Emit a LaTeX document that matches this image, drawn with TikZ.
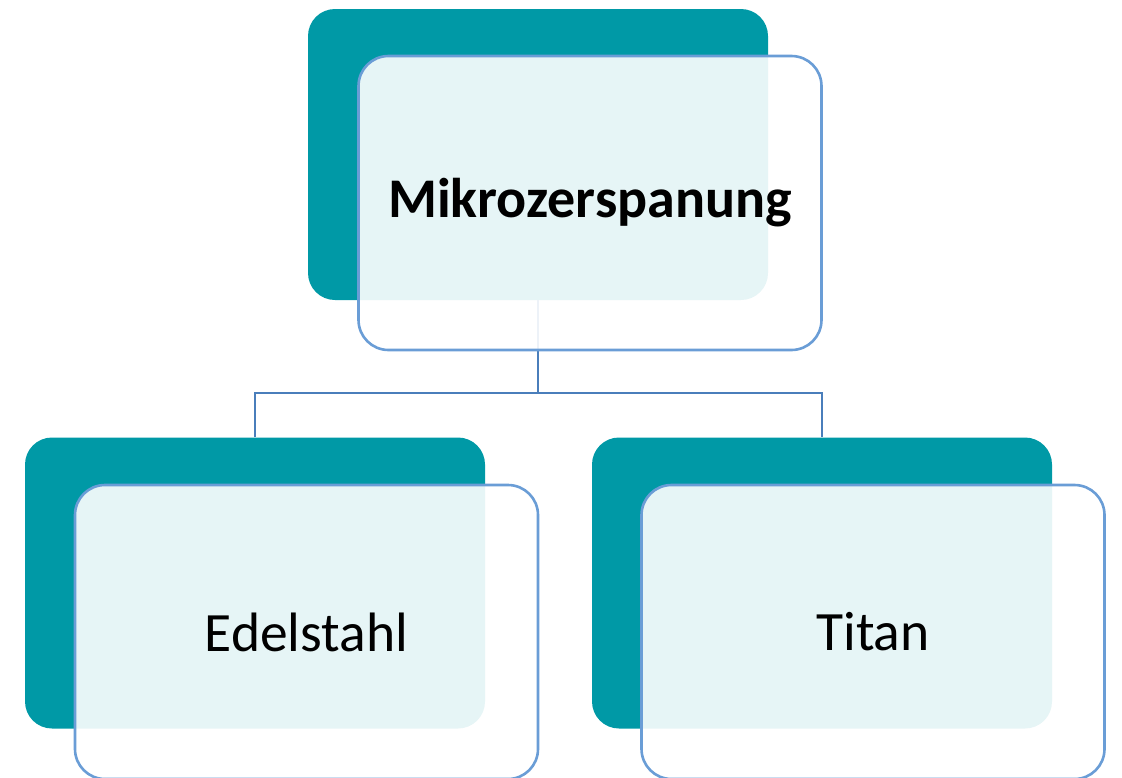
\documentclass[tikz,border=0pt]{standalone}
\usepackage{fontspec}
\setmainfont{Carlito}
\definecolor{tealback}{HTML}{0099A6}
\definecolor{frameblue}{HTML}{6A9DD6}
\definecolor{linkblue}{HTML}{4A7EBB}
\tikzset{
  backbox/.style={fill=tealback, rounded corners=27pt, inner sep=0pt,
    minimum width=460pt, minimum height=291pt},
  frontbox/.style={draw=frameblue, line width=2.6pt, fill=white, fill opacity=0.9,
    text opacity=1, rounded corners=30pt, inner sep=0pt,
    minimum width=463pt, minimum height=294pt, font=\fontsize{55.5}{60}\selectfont},
  link/.style={draw=linkblue, line width=2.4pt}
}
\begin{document}
\begin{tikzpicture}[x=1pt,y=-1pt]
  \useasboundingbox (0,0) rectangle (1122,777);
  % teal back cards
  \node[backbox] (mb) at (538,154.5) {};
  \node[backbox] (eb) at (255,583) {};
  \node[backbox] (tb) at (822,583) {};
  % tree connectors
  \coordinate (junction) at (538,393);
  \draw[link] (mb.south) -- (junction);
  \draw[link] (eb.north) |- (junction) -| (tb.north);
  % translucent front cards with labels
  \node[frontbox, font=\fontsize{56}{60}\selectfont\bfseries] (mf) at (590,203) {Mikrozerspanung};
  \node[frontbox] (ef) at (306.5,632) {Edelstahl};
  \node[frontbox] (tf) at (873,632) {Titan};
\end{tikzpicture}
\end{document}
